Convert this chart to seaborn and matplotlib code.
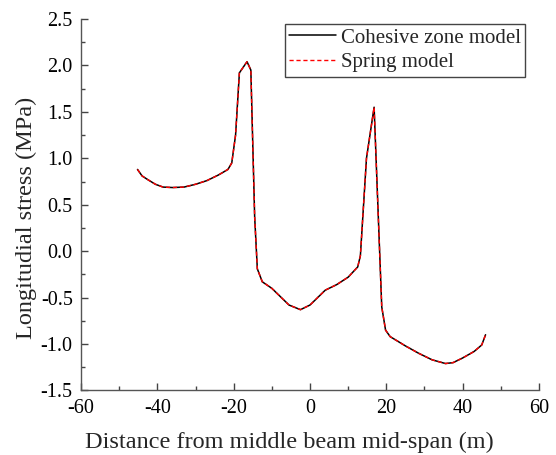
import matplotlib
matplotlib.use('Agg')
import matplotlib.pyplot as plt
from matplotlib.ticker import MultipleLocator, FuncFormatter
import pandas as pd
import seaborn as sns

# distance from mid-span (m) and longitudinal stress (MPa)
distance = [-45.2, -44.0, -42.5, -40.5, -38.5, -36.0, -33.0, -30.0, -27.0, -24.0,
            -21.5, -20.5, -19.5, -18.5, -16.5, -15.5, -14.5, -13.8, -12.5, -10.0,
            -8.0, -5.5, -2.5, 0.0, 2.0, 4.0, 7.0, 10.0, 12.5, 13.2,
            14.8, 16.8, 18.8, 19.8, 21.0, 25.0, 28.5, 32.0, 35.5, 37.5,
            40.0, 43.0, 45.0, 46.0]
stress_cohesive = [0.88, 0.81, 0.77, 0.72, 0.69, 0.685, 0.69, 0.72, 0.76, 0.82,
                   0.88, 0.95, 1.25, 1.92, 2.04, 1.95, 0.37, -0.19, -0.33, -0.40,
                   -0.48, -0.58, -0.63, -0.58, -0.50, -0.42, -0.36, -0.28, -0.17, -0.05,
                   1.00, 1.55, -0.60, -0.85, -0.92, -1.02, -1.10, -1.17, -1.21, -1.20,
                   -1.15, -1.08, -1.01, -0.90]
stress_spring = [0.88, 0.81, 0.77, 0.72, 0.69, 0.685, 0.69, 0.72, 0.76, 0.82,
                 0.88, 0.95, 1.25, 1.92, 2.04, 1.95, 0.37, -0.19, -0.33, -0.40,
                 -0.48, -0.58, -0.63, -0.58, -0.50, -0.42, -0.36, -0.28, -0.17, -0.05,
                 1.00, 1.55, -0.60, -0.85, -0.92, -1.02, -1.10, -1.17, -1.21, -1.20,
                 -1.15, -1.08, -1.01, -0.90]

df_cz = pd.DataFrame({'x': distance, 'y': stress_cohesive})
df_sp = pd.DataFrame({'x': distance, 'y': stress_spring})

sns.set_style('ticks')
plt.rcParams['font.family'] = ['Liberation Serif', 'DejaVu Serif']
plt.rcParams['axes.unicode_minus'] = False

fig = plt.figure(figsize=(5.56, 4.55), dpi=100)
ax = fig.add_axes([0.1457, 0.1418, 0.8237, 0.8165])

sns.lineplot(data=df_cz, x='x', y='y', ax=ax, color='black', linewidth=1.1,
             label='Cohesive zone model', sort=False)
sns.lineplot(data=df_sp, x='x', y='y', ax=ax, color='red', linewidth=1.0,
             linestyle=(0, (3, 2)), label='Spring model', sort=False)

ax.set_xlim(-60, 60)
ax.set_ylim(-1.5, 2.5)
ax.xaxis.set_major_locator(MultipleLocator(20))
ax.xaxis.set_minor_locator(MultipleLocator(10))
ax.yaxis.set_major_locator(MultipleLocator(0.5))
ax.yaxis.set_minor_locator(MultipleLocator(0.25))
ax.yaxis.set_major_formatter(FuncFormatter(lambda v, p: f'{v:.1f}'))
ax.xaxis.set_major_formatter(FuncFormatter(lambda v, p: f'{v:.0f}'))

ax.tick_params(which='major', direction='in', length=5, width=1, labelsize=14.5,
               colors='#444444', labelcolor='black')
ax.tick_params(axis='y', which='major', pad=6)
ax.tick_params(axis='x', which='major', pad=6)
ax.tick_params(which='minor', direction='in', length=3, width=1, colors='#444444')

for s in ['top', 'right']:
    ax.spines[s].set_visible(False)
for s in ['left', 'bottom']:
    ax.spines[s].set_linewidth(1.0)
    ax.spines[s].set_color('#555555')

ax.set_xlabel('Distance from middle beam mid-span (m)', fontsize=17.5)
ax.set_ylabel('Longitudial stress (MPa)', fontsize=17.5)
ax.xaxis.set_label_coords(0.456, -0.11)
ax.yaxis.set_label_coords(-0.096, 0.465)

leg = ax.legend(loc='upper right', bbox_to_anchor=(0.97, 0.987), fontsize=15,
                frameon=True, fancybox=False, handlelength=2.25, handletextpad=0.25,
                borderpad=0.2, labelspacing=0.25, borderaxespad=0.0)
leg.get_frame().set_edgecolor('#444444')
leg.get_frame().set_linewidth(1.0)
leg.get_frame().set_alpha(1.0)

fig.savefig('out.png', dpi=100)
